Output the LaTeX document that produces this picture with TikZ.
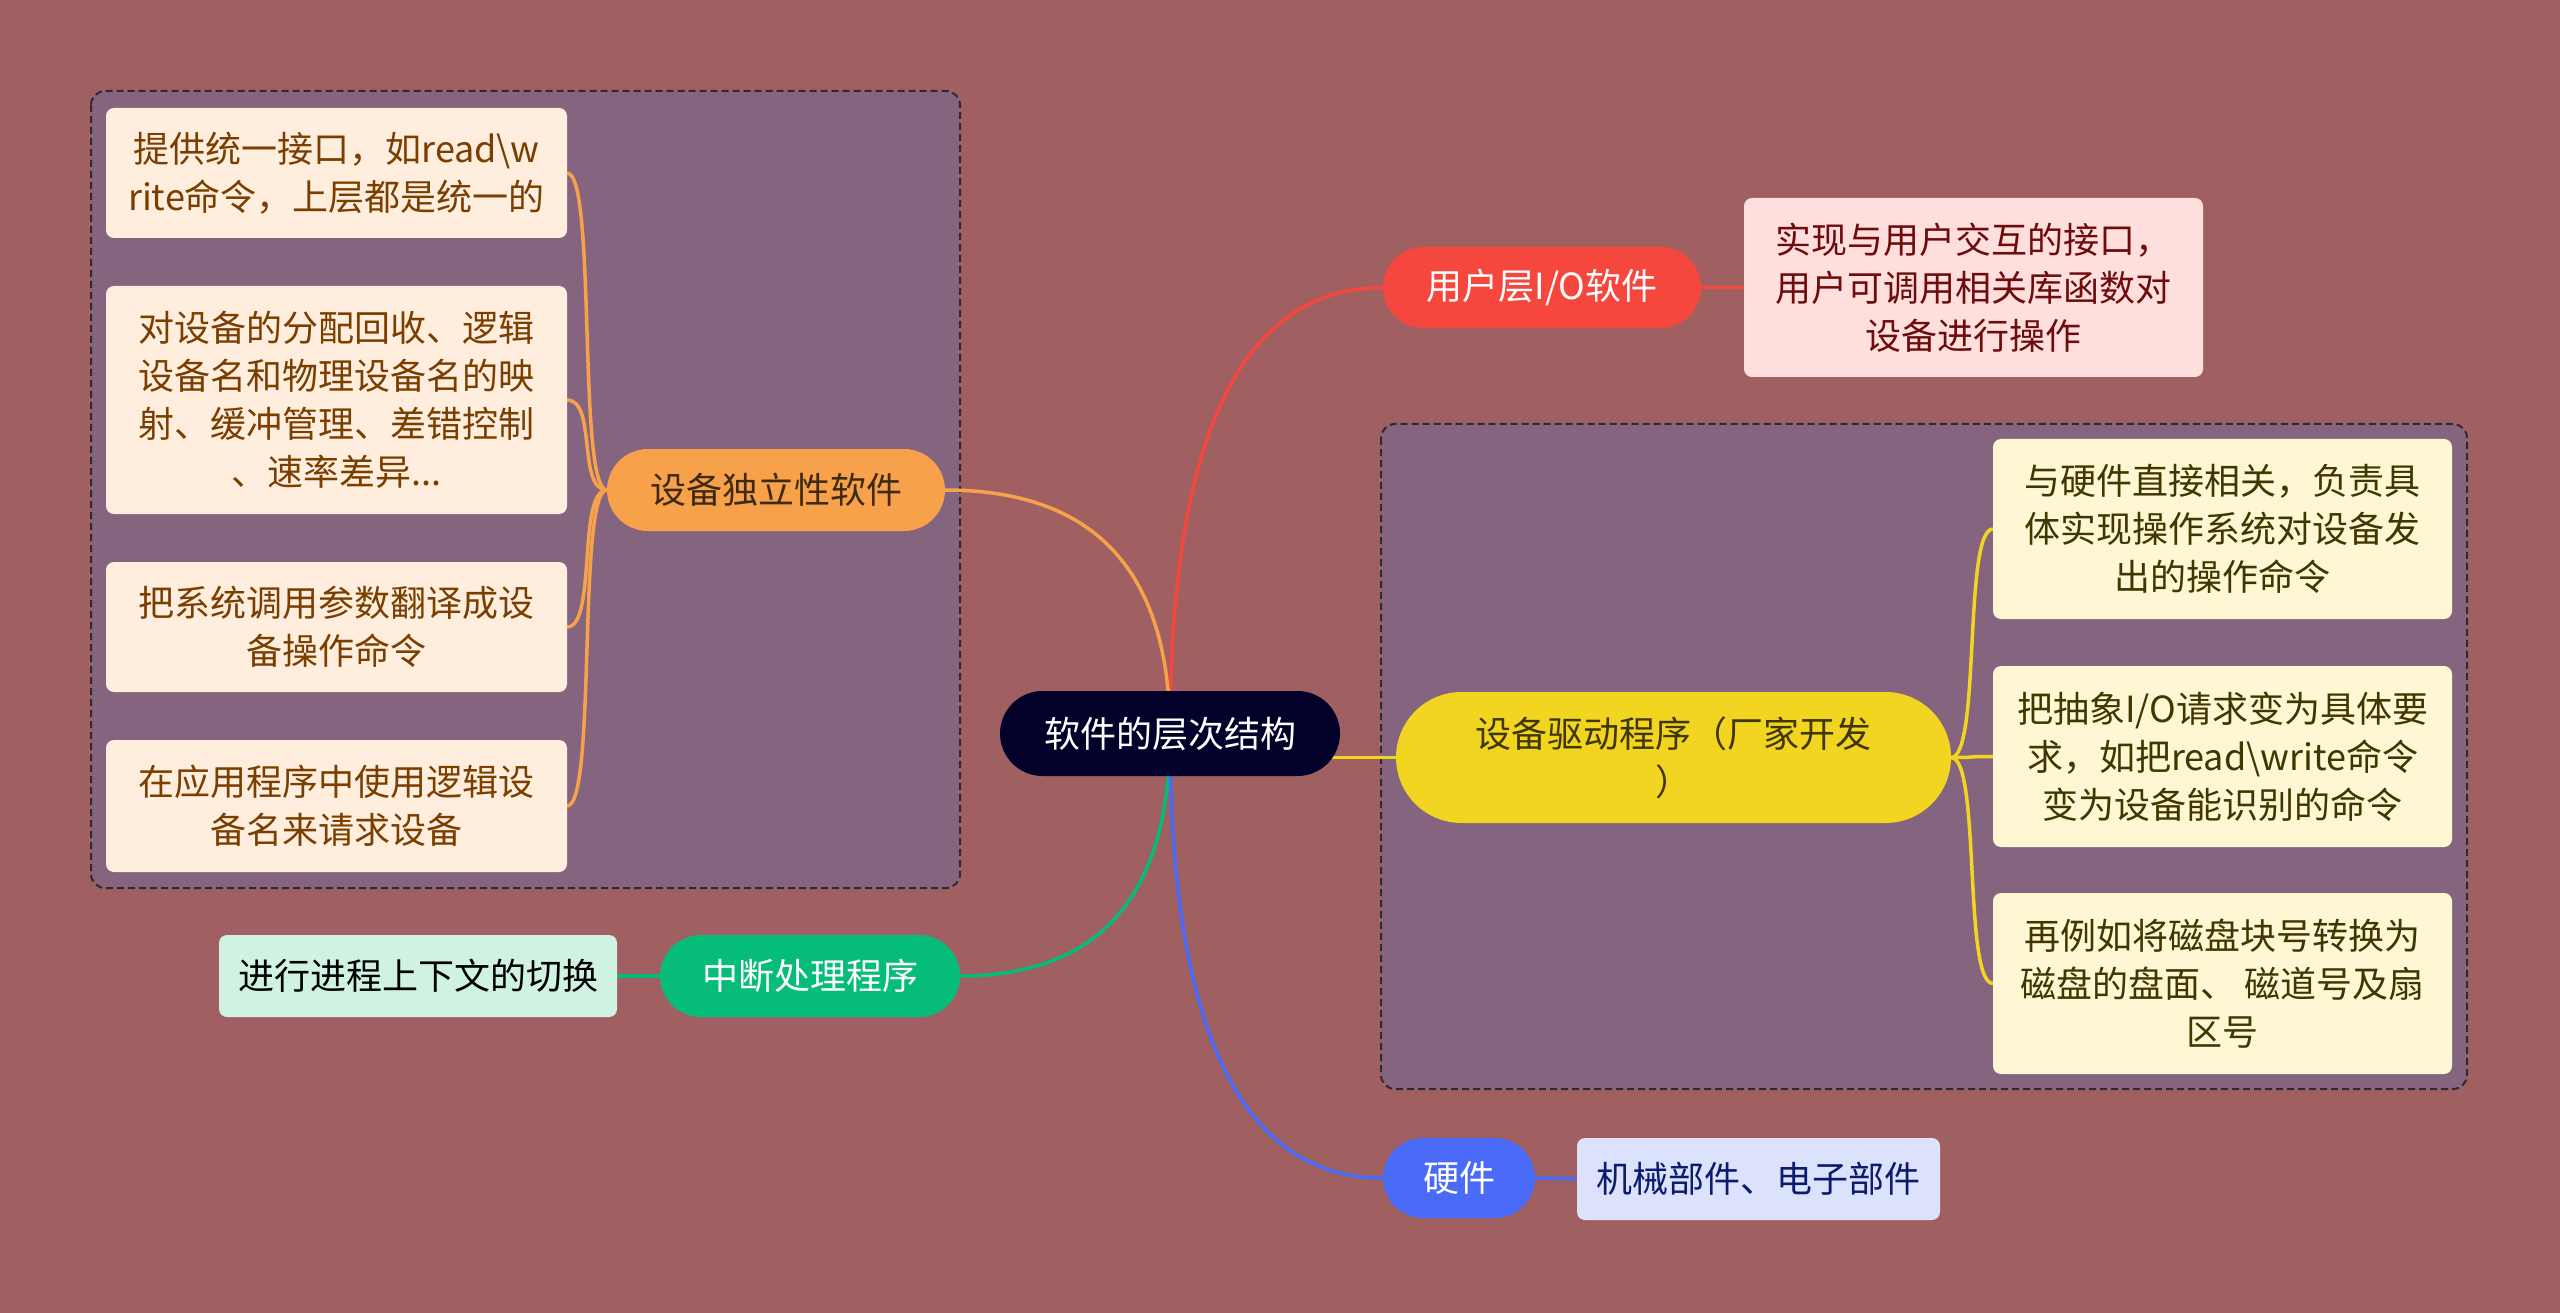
\documentclass[tikz,border=0pt]{standalone}
\usepackage{fontspec}
\setmainfont{Noto Sans CJK SC}
\usetikzlibrary{shapes.misc}
\pgfdeclarelayer{bglayer}
\pgfdeclarelayer{edgelayer}
\pgfsetlayers{bglayer,edgelayer,main}
\definecolor{bgc}{HTML}{A06061}
\definecolor{grpc}{HTML}{856480}
\definecolor{grpline}{HTML}{2E2A30}
\definecolor{rootc}{HTML}{03012A}
\definecolor{redc}{HTML}{F5473E}
\definecolor{redbox}{HTML}{FFDEDE}
\definecolor{redtxt}{HTML}{6E0B0B}
\definecolor{orac}{HTML}{F7A24B}
\definecolor{orabox}{HTML}{FFEEDE}
\definecolor{oratxt}{HTML}{7A3F00}
\definecolor{oradark}{HTML}{3E2A10}
\definecolor{yelc}{HTML}{F2D521}
\definecolor{yelbox}{HTML}{FFF7D4}
\definecolor{yeltxt}{HTML}{3F3600}
\definecolor{grnc}{HTML}{06BC7A}
\definecolor{grnbox}{HTML}{D0F2E3}
\definecolor{bluc}{HTML}{4A6BF8}
\definecolor{blubox}{HTML}{DCE2FB}
\definecolor{blutxt}{HTML}{0B1B6E}
\begin{document}
\begin{tikzpicture}[x=1pt,y=-1pt,
  every node/.style={inner sep=0pt, outer sep=0pt, align=center, font=\fontsize{36}{48}\selectfont},
  pill/.style={rounded rectangle, draw=none},
  box/.style={rectangle, rounded corners=8pt, draw=none},
  conn/.style={line width=3.5pt},
  grp/.style={fill=grpc, draw=grpline, line width=2pt, dash pattern=on 7pt off 4pt, rounded corners=14pt}
]
\useasboundingbox (0,0) rectangle (2560,1313);
\begin{pgfonlayer}{bglayer}
  \fill[bgc] (0,0) rectangle (2560,1313);
  \path[grp] (91,91) rectangle (960,888);
  \path[grp] (1381,424) rectangle (2467,1089);
\end{pgfonlayer}

% root
\node[pill, fill=rootc, text=white, minimum width=340pt, minimum height=85pt] (root) at (1170,733.5) {软件的层次结构};

% user layer
\node[pill, fill=redc, text=white, minimum width=318pt, minimum height=81pt] (ur) at (1542,287.5) {用户层I/O软件};
\node[box, fill=redbox, text=redtxt, minimum width=459pt, minimum height=179pt] (uc) at (1973.5,287.5) {实现与用户交互的接口，\\用户可调用相关库函数对\\设备进行操作};

% device independent
\node[pill, fill=orac, text=oradark, minimum width=338pt, minimum height=82pt] (dj) at (776,490) {设备独立性软件};
\node[box, fill=orabox, text=oratxt, minimum width=461pt, minimum height=130pt] (l1) at (336.5,173) {提供统一接口，如read\textbackslash w\\rite命令，上层都是统一的};
\node[box, fill=orabox, text=oratxt, minimum width=461pt, minimum height=228pt] (l2) at (336.5,400) {对设备的分配回收、逻辑\\设备名和物理设备名的映\\射、缓冲管理、差错控制\\、速率差异...};
\node[box, fill=orabox, text=oratxt, minimum width=461pt, minimum height=130pt] (l3) at (336.5,627) {把系统调用参数翻译成设\\备操作命令};
\node[box, fill=orabox, text=oratxt, minimum width=461pt, minimum height=132pt] (l4) at (336.5,806) {在应用程序中使用逻辑设\\备名来请求设备};

% driver
\node[pill, fill=yelc, text=yeltxt, minimum width=555pt, minimum height=131pt] (drv) at (1673.5,757.5) {设备驱动程序（厂家开发\\）};
\node[box, fill=yelbox, text=yeltxt, minimum width=459pt, minimum height=180pt] (r1) at (2222.5,529) {与硬件直接相关，负责具\\体实现操作系统对设备发\\出的操作命令};
\node[box, fill=yelbox, text=yeltxt, minimum width=459pt, minimum height=181pt] (r2) at (2222.5,756.5) {把抽象I/O请求变为具体要\\求，如把read\textbackslash write命令\\变为设备能识别的命令};
\node[box, fill=yelbox, text=yeltxt, minimum width=459pt, minimum height=181pt] (r3) at (2222.5,983.5) {再例如将磁盘块号转换为\\磁盘的盘面、 磁道号及扇\\区号};

% interrupt
\node[pill, fill=grnc, text=white, minimum width=300pt, minimum height=82pt] (zd) at (810,976) {中断处理程序};
\node[box, fill=grnbox, text=black, minimum width=398pt, minimum height=82pt] (zc) at (418,976) {进行进程上下文的切换};

% hardware
\node[pill, fill=bluc, text=white, minimum width=152pt, minimum height=80pt] (hw) at (1459,1178) {硬件};
\node[box, fill=blubox, text=blutxt, minimum width=363pt, minimum height=82pt] (hc) at (1758.5,1179) {机械部件、电子部件};

\begin{pgfonlayer}{edgelayer}
  \draw[conn, redc] (root.center) .. controls +(0,-297) and +(-142,0) .. (ur.west);
  \draw[conn, orac] (root.center) .. controls +(0,-162) and +(150,0) .. (dj.east);
  \draw[conn, grnc] (root.center) .. controls +(0,162) and +(140,0) .. (zd.east);
  \draw[conn, bluc] (root.center) .. controls +(0,297) and +(-142,0) .. (hw.west);
  \draw[conn, yelc] (drv.west -| root.center) -- (drv.west);
  \draw[conn, redc] (ur.east) -- (uc.west);
  \draw[conn, grnc] (zd.west) -- (zc.east);
  \draw[conn, bluc] (hw.east) -- (hc.west);
  \foreach \c in {l1,l2,l3,l4}
    \draw[conn, orac] (dj.west) .. controls +(-30,0) and +(30,0) .. (\c.east);
  \foreach \c in {r1,r2,r3}
    \draw[conn, yelc] (drv.east) .. controls +(30,0) and +(-30,0) .. (\c.west);
\end{pgfonlayer}
\end{tikzpicture}
\end{document}
